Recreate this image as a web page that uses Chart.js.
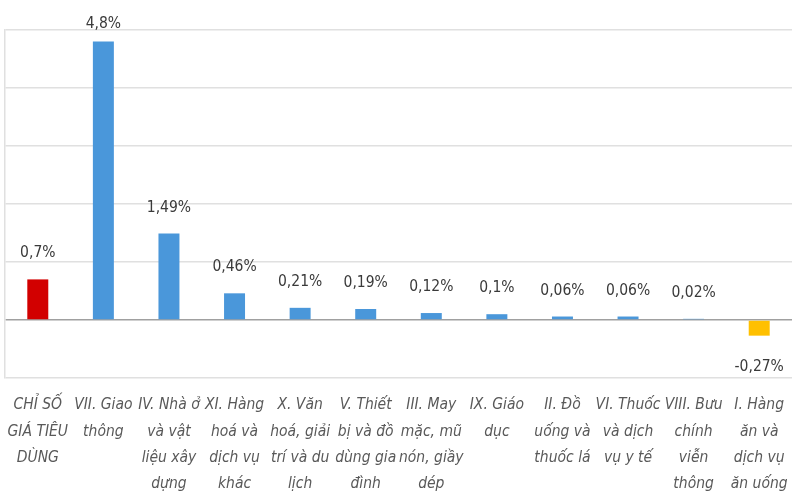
<!DOCTYPE html>
<html>
<head>
<meta charset="utf-8">
<script src="https://cdn.jsdelivr.net/npm/chart.js@4/dist/chart.umd.min.js"></script>
<style>
    html, body { margin: 0; padding: 0; background: #ffffff; }
    #wrap { width: 800px; height: 500px; position: relative; }
</style>
</head>
<body>
<div id="wrap"><canvas id="cpiChart"></canvas></div>
<script>
// nhóm hàng (nhãn trục x, mỗi dòng một phần tử)
var nhomHang = [
    ["CHỈ SỐ", "GIÁ TIÊU", "DÙNG"],
    ["VII. Giao", "thông"],
    ["IV. Nhà ở", "và vật", "liệu xây", "dựng"],
    ["XI. Hàng", "hoá và", "dịch vụ", "khác"],
    ["X. Văn", "hoá, giải", "trí và du", "lịch"],
    ["V. Thiết", "bị và đồ", "dùng gia", "đình"],
    ["III. May", "mặc, mũ", "nón, giầy", "dép"],
    ["IX. Giáo", "dục"],
    ["II. Đồ", "uống và", "thuốc lá"],
    ["VI. Thuốc", "và dịch", "vụ y tế"],
    ["VIII. Bưu", "chính", "viễn", "thông"],
    ["I. Hàng", "ăn và", "dịch vụ", "ăn uống"]
];

// mức tăng (%)
var mucTang = [0.7, 4.8, 1.49, 0.46, 0.21, 0.19, 0.12, 0.1, 0.06, 0.06, 0.02, -0.27];

// nhãn hiển thị trên cột
var nhanGiaTri = ["0,7%", "4,8%", "1,49%", "0,46%", "0,21%", "0,19%", "0,12%", "0,1%", "0,06%", "0,06%", "0,02%", "-0,27%"];

var mauCot = mucTang.map(function (v, i) {
    if (i === 0) return "#d20000";
    if (v < 0) return "#ffc000";
    return "#4a97da";
});

// plugin vẽ nhãn giá trị
var nhanPlugin = {
    id: "nhanGiaTri",
    afterDatasetsDraw: function (chart) {
        var ctx = chart.ctx;
        var meta = chart.getDatasetMeta(0);
        ctx.save();
        ctx.font = "15.5px 'DejaVu Sans Condensed', 'DejaVu Sans', sans-serif";
        ctx.fillStyle = "#3a3a3a";
        ctx.textAlign = "center";
        ctx.textBaseline = "middle";
        meta.data.forEach(function (bar, i) {
            var y;
            if (mucTang[i] < 0) {
                y = bar.y + 31;
            } else {
                y = Math.max(bar.y - 26, chart.chartArea.top - 6);
            }
            ctx.fillText(nhanGiaTri[i], bar.x, y);
        });
        ctx.restore();
    }
};

var ctx = document.getElementById("cpiChart").getContext("2d");
var cpiChart = new Chart(ctx, {
    type: "bar",
    data: {
        labels: nhomHang,
        datasets: [
            {
                data: mucTang,
                backgroundColor: mauCot,
                borderWidth: 0,
                barPercentage: 0.32,
                categoryPercentage: 1.0
            }
        ]
    },
    options: {
        responsive: true,
        maintainAspectRatio: false,
        animation: false,
        layout: {
            padding: { left: 5, right: 8, top: 30, bottom: 0 }
        },
        plugins: {
            legend: { display: false },
            tooltip: { enabled: false }
        },
        scales: {
            x: {
                afterFit: function (scale) {
                    scale.height = 122;
                    scale.paddingLeft = 0;
                    scale.paddingRight = 0;
                },
                grid: { display: false, drawTicks: false },
                border: { display: false },
                ticks: {
                    autoSkip: false,
                    maxRotation: 0,
                    minRotation: 0,
                    padding: 14,
                    color: "#595959",
                    font: {
                        family: "'DejaVu Sans Condensed', sans-serif",
                        size: 15.5,
                        style: "italic",
                        lineHeight: 1.7
                    }
                }
            },
            y: {
                min: -1,
                max: 5,
                afterFit: function (scale) {
                    scale.width = 0;
                },
                ticks: { display: false, stepSize: 1 },
                grid: {
                    drawTicks: false,
                    lineWidth: 1.5,
                    color: function (c) {
                        return c.tick && c.tick.value === 0 ? "#a0a0a0" : "#e0e0e0";
                    }
                },
                border: { display: true, color: "#e0e0e0", width: 1.5 }
            }
        }
    },
    plugins: [nhanPlugin]
});
</script>
</body>
</html>
